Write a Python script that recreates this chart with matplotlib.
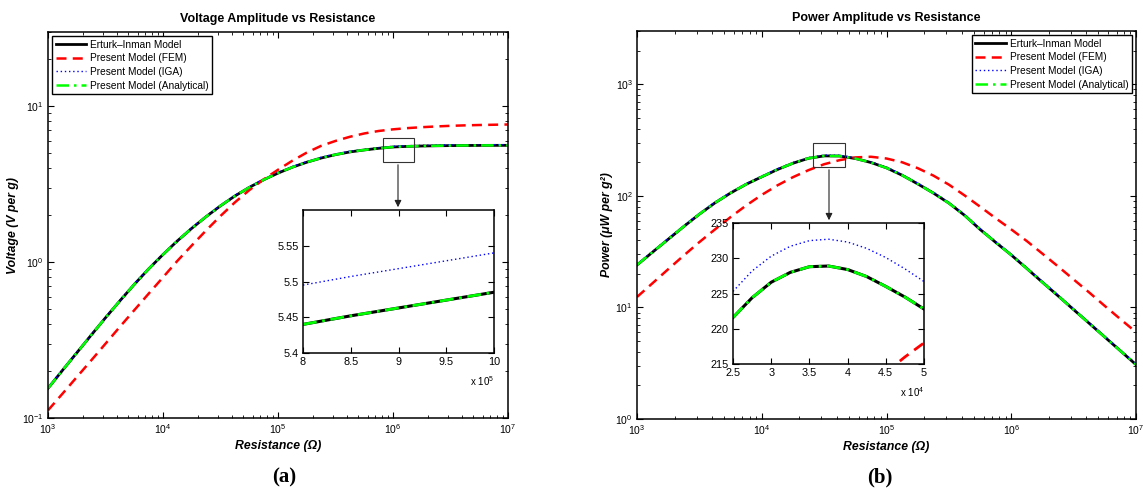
import numpy as np
import matplotlib
matplotlib.use('Agg')
import matplotlib.pyplot as plt
from matplotlib.patches import Rectangle, FancyArrowPatch
from matplotlib.ticker import FixedLocator, FuncFormatter

plt.rcParams['font.family'] = ['Liberation Sans', 'DejaVu Sans']
plt.rcParams['mathtext.fontset'] = 'custom'
plt.rcParams['mathtext.rm'] = 'Liberation Sans'
plt.rcParams['mathtext.it'] = 'Liberation Sans:italic'
plt.rcParams['mathtext.bf'] = 'Liberation Sans:bold'

# resistance sampling points, log10(R)
r_exp = [3.0, 3.125, 3.25, 3.375, 3.5, 3.625, 3.75, 3.875,
         4.0, 4.125, 4.25, 4.375, 4.5, 4.625, 4.75, 4.875,
         5.0, 5.125, 5.25, 5.375, 5.5, 5.625, 5.75, 5.875,
         6.0, 6.125, 6.25, 6.375, 6.5, 6.625, 6.75, 6.875, 7.0]

# voltage (V per g)
volt_erturk = [0.155, 0.202, 0.262, 0.340, 0.440, 0.565, 0.720, 0.905,
               1.12, 1.37, 1.65, 1.96, 2.30, 2.66, 3.02, 3.38,
               3.73, 4.07, 4.38, 4.66, 4.90, 5.10, 5.25, 5.38,
               5.485, 5.535, 5.565, 5.585, 5.60, 5.61, 5.615, 5.62, 5.62]
volt_fem = [0.112, 0.143, 0.183, 0.234, 0.300, 0.385, 0.492, 0.628,
            0.80, 1.02, 1.28, 1.60, 1.98, 2.42, 2.90, 3.40,
            3.92, 4.48, 5.05, 5.58, 6.00, 6.38, 6.70, 6.95,
            7.12, 7.25, 7.35, 7.43, 7.50, 7.55, 7.59, 7.62, 7.65]
volt_iga = [0.157, 0.204, 0.265, 0.343, 0.444, 0.571, 0.727, 0.914,
            1.13, 1.38, 1.67, 1.98, 2.32, 2.69, 3.05, 3.41,
            3.77, 4.11, 4.42, 4.71, 4.95, 5.15, 5.30, 5.43,
            5.54, 5.59, 5.62, 5.64, 5.655, 5.665, 5.67, 5.675, 5.675]
volt_analytical = [0.155, 0.202, 0.262, 0.340, 0.440, 0.565, 0.720, 0.905,
                   1.12, 1.37, 1.65, 1.96, 2.30, 2.66, 3.02, 3.38,
                   3.73, 4.07, 4.38, 4.66, 4.90, 5.10, 5.25, 5.38,
                   5.485, 5.535, 5.565, 5.585, 5.60, 5.61, 5.615, 5.62, 5.62]

# power (uW per g^2)
pow_erturk = [24.0, 31.3, 40.8, 53.1, 68.5, 86.5, 106, 127,
              148, 172, 196, 217, 228, 227.5, 216, 199,
              178, 153, 128, 106, 86, 67, 50, 38.3,
              29.5, 22.3, 16.8, 12.7, 9.55, 7.2, 5.42, 4.08, 3.07]
pow_fem = [12.4, 16.5, 22.0, 29.2, 38.5, 50.0, 64.5, 82,
           102, 124, 147, 170, 192, 209, 221, 224,
           216, 200, 177, 152, 126, 101, 80, 63,
           50, 39.3, 30.3, 23.3, 17.8, 13.6, 10.3, 7.85, 6.0]
pow_iga = [24.4, 31.8, 41.5, 54.0, 69.6, 87.9, 107.7, 129,
           150.4, 174.8, 199.1, 220.5, 231.6, 231.1, 219.5, 202.2,
           180.8, 155.4, 130, 107.7, 87.4, 68.1, 50.8, 38.9,
           30.0, 22.7, 17.1, 12.9, 9.7, 7.3, 5.5, 4.15, 3.12]
pow_analytical = [24.0, 31.3, 40.8, 53.1, 68.5, 86.5, 106, 127,
                  148, 172, 196, 217, 228, 227.5, 216, 199,
                  178, 153, 128, 106, 86, 67, 50, 38.3,
                  29.5, 22.3, 16.8, 12.7, 9.55, 7.2, 5.42, 4.08, 3.07]

# zoomed views
zoom_v_r = [8.0e5, 8.5e5, 9.0e5, 9.5e5, 1.0e6]
zoom_v_erturk = [5.440, 5.452, 5.463, 5.474, 5.485]
zoom_v_iga = [5.495, 5.507, 5.518, 5.529, 5.540]
zoom_v_analytical = [5.440, 5.452, 5.463, 5.474, 5.485]

zoom_p_r = [2.5e4, 2.75e4, 3.0e4, 3.25e4, 3.5e4, 3.75e4, 4.0e4, 4.25e4, 4.5e4, 4.75e4, 5.0e4]
zoom_p_erturk = [221.6, 224.4, 226.6, 228.0, 228.8, 228.9, 228.4, 227.4, 226.0, 224.5, 222.8]
zoom_p_iga = [225.3, 228.2, 230.3, 231.7, 232.5, 232.7, 232.3, 231.4, 230.1, 228.5, 226.7]
zoom_p_analytical = [221.6, 224.4, 226.6, 228.0, 228.8, 228.9, 228.4, 227.4, 226.0, 224.5, 222.8]
zoom_p_fem_r = [4.5e4, 4.75e4, 5.0e4]
zoom_p_fem = [213.8, 216.0, 218.0]

labels = ['Erturk\u2013Inman Model', 'Present Model (FEM)',
          'Present Model (IGA)', 'Present Model (Analytical)']

resistance = 10.0 ** np.array(r_exp)

styles = [
    dict(color='black', lw=2.0, ls='-'),
    dict(color='#ff0000', lw=1.8, ls=(0, (4, 2.5))),
    dict(color='#0000ff', lw=1.0, ls=(0, (1, 2))),
    dict(color='#00ff00', lw=1.8, ls=(0, (5, 2, 1, 2))),
]


def style_axes(ax, size=7.5):
    ax.tick_params(which='both', direction='in', top=True, right=True,
                   labelsize=size, pad=3)
    ax.tick_params(which='major', length=4, width=0.8)
    ax.tick_params(which='minor', length=2, width=0.6)
    for s in ax.spines.values():
        s.set_linewidth(1.1)


def draw_main(ax, series):
    for y, lab, st in zip(series, labels, styles):
        ax.plot(resistance, y, label=lab, **st)
    ax.set_xscale('log')
    ax.set_yscale('log')
    ax.set_xlim(1e3, 1e7)
    style_axes(ax)


def add_legend(ax, loc):
    leg = ax.legend(loc=loc, fontsize=7.3, fancybox=False, edgecolor='black',
                    framealpha=1, borderpad=0.35, handlelength=3.0, handletextpad=0.4,
                    labelspacing=0.36, borderaxespad=0.4)
    leg.get_frame().set_linewidth(1.0)


lab_kw = dict(fontsize=8.8, fontweight='bold', style='italic')

fig = plt.figure(figsize=(11.43, 4.9), dpi=100)

# ---- (a) voltage
ax1 = fig.add_axes([0.042, 0.1469, 0.4025, 0.7878])
draw_main(ax1, [volt_erturk, volt_fem, volt_iga, volt_analytical])
ax1.set_ylim(0.1, 30)
ax1.set_title('Voltage Amplitude vs Resistance', fontsize=9, fontweight='bold', pad=7)
ax1.set_xlabel('Resistance (\u03a9)', labelpad=3, **lab_kw)
ax1.set_ylabel('Voltage (V per g)', labelpad=2, **lab_kw)
add_legend(ax1, 'upper left')
ax1.add_patch(Rectangle((8.2e5, 4.38), 1.52e6 - 8.2e5, 6.24 - 4.38, fill=False,
                        edgecolor='#333333', lw=0.8, zorder=5))

ins1 = fig.add_axes([0.2651, 0.2796, 0.1671, 0.2918])
ins1.plot(zoom_v_r, zoom_v_erturk, color='black', lw=2.2)
ins1.plot(zoom_v_r, zoom_v_iga, color='#0000ff', lw=1.0, ls=(0, (1, 2)))
ins1.plot(zoom_v_r, zoom_v_analytical, color='#00ff00', lw=2.0, ls=(0, (5, 2, 1, 2)))
ins1.set_xlim(8e5, 1e6)
ins1.set_ylim(5.4, 5.6)
ins1.xaxis.set_major_locator(FixedLocator([8e5, 8.5e5, 9e5, 9.5e5, 1e6]))
ins1.xaxis.set_major_formatter(FuncFormatter(lambda v, p: f'{v / 1e5:g}'))
ins1.yaxis.set_major_locator(FixedLocator([5.4, 5.45, 5.5, 5.55]))
ins1.yaxis.set_major_formatter(FuncFormatter(lambda v, p: f'{v:g}'))
style_axes(ins1, 7.8)
ins1.text(1.0, -0.2, 'x 10$^5$', transform=ins1.transAxes, ha='right', va='center', fontsize=7)

# ---- (b) power
ax2 = fig.add_axes([0.5573, 0.1449, 0.4366, 0.7918])
draw_main(ax2, [pow_erturk, pow_fem, pow_iga, pow_analytical])
ax2.set_ylim(1, 3000)
ax2.set_title('Power Amplitude vs Resistance', fontsize=9, fontweight='bold', pad=7)
ax2.set_xlabel('Resistance (\u03a9)', labelpad=3, **lab_kw)
ax2.set_ylabel('Power (\u03bcW per g\u00b2)', labelpad=2, **lab_kw)
add_legend(ax2, 'upper right')
ax2.add_patch(Rectangle((2.58e4, 180), 4.65e4 - 2.58e4, 296 - 180, fill=False,
                        edgecolor='#333333', lw=0.8, zorder=5))

ins2 = fig.add_axes([0.6413, 0.2571, 0.1671, 0.2878])
ins2.plot(zoom_p_r, zoom_p_erturk, color='black', lw=2.2)
ins2.plot(zoom_p_fem_r, zoom_p_fem, color='#ff0000', lw=2.0, ls=(0, (4, 2.5)))
ins2.plot(zoom_p_r, zoom_p_iga, color='#0000ff', lw=1.0, ls=(0, (1, 2)))
ins2.plot(zoom_p_r, zoom_p_analytical, color='#00ff00', lw=2.0, ls=(0, (5, 2, 1, 2)))
ins2.set_xlim(2.5e4, 5e4)
ins2.set_ylim(215, 235)
ins2.xaxis.set_major_locator(FixedLocator([2.5e4, 3e4, 3.5e4, 4e4, 4.5e4, 5e4]))
ins2.xaxis.set_major_formatter(FuncFormatter(lambda v, p: f'{v / 1e4:g}'))
ins2.yaxis.set_major_locator(FixedLocator([215, 220, 225, 230, 235]))
style_axes(ins2, 7.8)
ins2.text(1.0, -0.2, 'x 10$^4$', transform=ins2.transAxes, ha='right', va='center', fontsize=7)

# arrows from zoom boxes to insets (figure pixels -> fraction)
W, H = 1143.0, 490.0
for x, y0, y1 in [(398, 162, 210), (829, 167, 223)]:
    arr = FancyArrowPatch((x / W, 1 - y0 / H), (x / W, 1 - y1 / H),
                          transform=fig.transFigure, arrowstyle='-|>',
                          mutation_scale=10, color='#222222', lw=0.8)
    fig.add_artist(arr)

fig.text(0.249, 0.025, '(a)', family='Liberation Serif', weight='bold', size=15,
         ha='center', va='center')
fig.text(0.770, 0.025, '(b)', family='Liberation Serif', weight='bold', size=15,
         ha='center', va='center')

fig.savefig('out.png', dpi=100)
